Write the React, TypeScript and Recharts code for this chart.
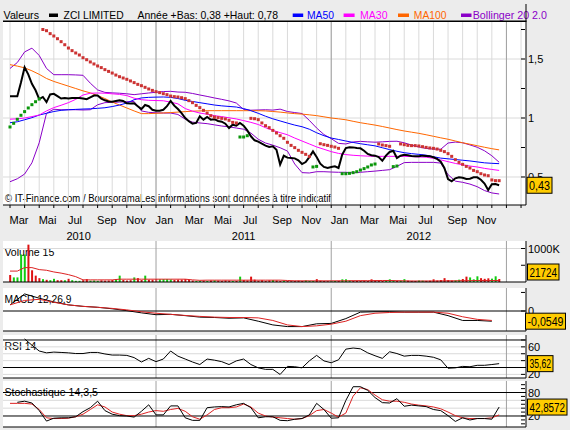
import React from 'react';
import { ComposedChart, Line, Bar, Cell, XAxis, YAxis, CartesianGrid, ReferenceLine } from 'recharts';

// ---------------- categories (months since 1 Mar 2010) ----------------
const monthTicks = [0,1,2,3,4,5,6,7,8,9,10,11,12,13,14,15,16,17,18,19,20,21,22,23,24,25,26,27,28,29,30,31,32,33,34,35];
const janMonths = [10, 22, 34];
const monthLabels = ['Mar','Mai','Jul','Sep','Nov','Jan','Mar','Mai','Jul','Sep','Nov','Jan','Mar','Mai','Jul','Sep','Nov'];
const yearLabels = ['2010', '2011', '2012'];
const yearPositions = [4.7, 16, 28];

const WEEK = 0.25;
const HALF = 0.5;
const MONTH = 1;

// ---------------- price (weekly) ----------------
const price = [
  1.184,1.184,1.184,1.30,1.43,1.37,1.29,1.235,1.16,1.178,
  1.135,1.20,1.205,1.185,1.165,1.17,1.165,1.17,1.17,1.17,
  1.165,1.16,1.175,1.19,1.19,1.165,1.15,1.14,1.138,1.145,
  1.15,1.145,1.125,1.123,1.125,1.10,1.075,1.11,1.10,1.07,
  1.062,1.062,1.07,1.10,1.145,1.105,1.076,1.042,1.0,0.972,
  0.952,0.958,1.014,0.986,1.008,0.986,0.99,0.975,0.969,0.952,
  0.915,0.943,0.935,0.958,0.935,0.895,0.845,0.811,0.80,0.782,
  0.766,0.754,0.76,0.73,0.605,0.68,0.664,0.661,0.658,0.641,
  0.61,0.627,0.669,0.717,0.669,0.613,0.585,0.576,0.585,0.59,
  0.576,0.689,0.745,0.752,0.751,0.746,0.743,0.723,0.695,0.684,
  0.681,0.669,0.638,0.681,0.712,0.723,0.661,0.68,0.689,0.684,
  0.678,0.675,0.675,0.681,0.678,0.675,0.667,0.653,0.63,0.576,
  0.483,0.463,0.489,0.497,0.494,0.483,0.486,0.497,0.497,0.477,
  0.444,0.39,0.438,0.44,0.43,
];

// ---------------- parabolic SAR (weekly) ----------------
const sar = [
  0.924,0.955,0.989,1.023,1.054,1.085,1.113,1.138,1.161,1.75,
  1.74,1.715,1.695,1.672,1.647,1.621,1.593,1.571,1.551,1.534,
  1.511,1.494,1.475,1.458,1.441,1.427,1.41,1.395,1.381,1.364,
  1.35,1.339,1.328,1.314,1.3,1.285,1.274,1.26,1.246,1.234,
  1.223,1.215,1.206,1.198,1.186,1.181,1.178,1.172,1.164,1.147,
  1.13,1.107,1.088,1.065,1.042,1.02,1.008,1.003,0.997,0.992,
  0.98,0.963,0.958,0.839,0.839,0.85,0.997,0.994,0.986,0.958,
  0.935,0.918,0.895,0.873,0.85,0.828,0.794,0.768,0.749,0.726,
  0.709,0.692,0.675,0.585,0.59,0.782,0.774,0.768,0.76,0.754,
  0.743,0.528,0.528,0.531,0.537,0.545,0.559,0.571,0.585,0.602,
  0.61,0.78,0.771,0.766,0.76,0.588,0.593,0.78,0.774,0.768,
  0.766,0.766,0.763,0.757,0.751,0.746,0.743,0.737,0.726,0.715,
  0.698,0.675,0.647,0.624,0.607,0.59,0.576,0.556,0.545,0.528,
  0.517,0.511,0.475,0.469,0.469,
];
const sarRuns: [string, number][] = [['g',9],['r',54],['g',3],['r',17],['g',2],['r',6],['g',10],['r',4],['g',2],['r',28]];

// ---------------- overlays (half-monthly) ----------------
const ma100 = [
  1.452,1.44,1.425,1.40,1.37,1.335,1.31,1.29,1.27,1.25,
  1.23,1.213,1.19,1.165,1.135,1.11,1.085,1.06,1.037,1.037,
  1.04,1.043,1.046,1.05,1.054,1.058,1.06,1.062,1.062,1.062,
  1.062,1.062,1.062,1.062,1.062,1.06,1.055,1.05,1.043,1.037,
  1.033,1.027,1.02,1.01,1.0,0.993,0.985,0.972,0.96,0.95,
  0.94,0.928,0.915,0.902,0.89,0.88,0.87,0.858,0.845,0.832,
  0.82,0.805,0.79,0.778,0.765,0.752,0.74,0.73,
];
const ma50 = [
  0.96,0.968,0.985,1.003,1.025,1.04,1.055,1.065,1.07,1.073,
  1.076,1.078,1.082,1.087,1.097,1.11,1.127,1.155,1.17,1.175,
  1.177,1.178,1.175,1.165,1.15,1.14,1.13,1.12,1.11,1.103,
  1.098,1.093,1.08,1.062,1.04,1.015,0.993,0.975,0.957,0.94,
  0.926,0.905,0.875,0.85,0.83,0.818,0.805,0.793,0.782,0.773,
  0.764,0.748,0.732,0.718,0.706,0.698,0.692,0.685,0.672,0.66,
  0.654,0.648,0.642,0.636,0.628,0.62,0.616,0.613,
];
const ma30 = [
  0.99,0.993,1.0,1.012,1.025,1.06,1.088,1.108,1.13,1.158,
  1.195,1.21,1.212,1.21,1.205,1.2,1.19,1.168,1.155,1.15,
  1.148,1.146,1.135,1.12,1.08,1.058,1.042,1.032,1.02,1.012,
  1.002,0.992,0.978,0.963,0.945,0.918,0.895,0.876,0.858,0.83,
  0.805,0.78,0.755,0.735,0.715,0.7,0.69,0.684,0.68,0.677,
  0.675,0.675,0.675,0.675,0.675,0.673,0.67,0.668,0.658,0.645,
  0.63,0.615,0.603,0.593,0.585,0.573,0.564,0.556,
];
const bbUpper = [
  1.42,1.47,1.56,1.592,1.53,1.42,1.367,1.367,1.367,1.365,
  1.362,1.295,1.238,1.217,1.213,1.21,1.205,1.198,1.205,1.212,
  1.218,1.224,1.226,1.22,1.218,1.208,1.195,1.183,1.17,1.158,
  1.145,1.127,1.072,1.066,1.068,1.07,1.067,1.075,1.055,1.046,
  1.038,0.98,0.915,0.86,0.825,0.785,0.78,0.797,0.802,0.798,
  0.795,0.798,0.802,0.803,0.79,0.77,0.755,0.742,0.737,0.735,
  0.788,0.796,0.79,0.772,0.752,0.722,0.68,0.625,
];
const bbLower = [
  0.46,0.485,0.525,0.62,0.79,1.04,1.074,1.07,1.07,1.07,
  1.068,1.07,1.112,1.13,1.133,1.135,1.138,1.14,1.06,1.048,
  1.044,1.042,1.042,1.03,0.99,0.965,0.958,0.952,0.942,0.932,
  0.925,0.915,0.905,0.872,0.82,0.788,0.77,0.748,0.72,0.61,
  0.537,0.534,0.545,0.545,0.542,0.54,0.54,0.535,0.54,0.545,
  0.55,0.556,0.562,0.59,0.622,0.624,0.624,0.624,0.624,0.618,
  0.52,0.465,0.455,0.44,0.418,0.385,0.365,0.356,
];

// ---------------- volume (weekly, thousands) ----------------
const volume = [
  210,137,137,820,820,1115,350,190,115,85,65,55,95,55,55,55,95,55,35,35,55,85,
  40,45,35,50,40,45,60,
  90,190,60,45,55,137,115,60,190,70,65,
  85,80,85,85,75,60,70,70,85,60,45,
  30,35,40,30,45,50,40,35,45,40,30,35,
  160,60,45,160,70,40,55,35,50,60,45,30,40,
  30,25,35,40,30,45,35,30,85,40,30,25,35,30,40,
  80,80,45,35,30,40,35,30,80,45,35,30,40,80,45,
  35,40,85,40,35,30,45,40,35,40,80,45,60,
  115,60,45,50,70,90,160,137,80,170,115,95,110,100,170,90,
];
const volumeMa = [
  326,326,430,430,370,350,300,265,220,160,
  65,63,63,63,63,84,84,84,84,84,
  84,84,84,84,84,63,50,55,55,55,
  55,55,55,55,55,55,55,55,45,35,
  35,35,35,35,35,35,35,40,40,40,
  42,45,45,40,35,30,30,30,30,32,
  35,35,40,40,45,45,45,45,
];

// ---------------- MACD (monthly) ----------------
const macd = [0.033,0.092,0.069,0.049,0.033,0.025,0.02,0.012,0.002,-0.01,-0.02,-0.018,-0.025,-0.033,-0.035,-0.039,-0.037,-0.055,-0.075,-0.084,-0.084,-0.069,-0.067,-0.041,-0.006,-0.004,-0.004,-0.006,-0.006,-0.006,-0.025,-0.051,-0.051,-0.055];
const macdSignal = [0.033,0.057,0.063,0.047,0.033,0.025,0.02,0.014,0.006,-0.004,-0.012,-0.018,-0.024,-0.029,-0.033,-0.035,-0.035,-0.037,-0.051,-0.075,-0.084,-0.08,-0.071,-0.055,-0.025,-0.012,-0.008,-0.006,-0.006,-0.006,-0.012,-0.031,-0.045,-0.051];

// ---------------- RSI 14 (half-monthly from month 1) ----------------
const rsiStart = 1;
const rsi = [
  71.6,62.5,54,51.3,52.4,51.9,51.3,50.3,50.3,51.9,
  51.9,49.7,48.1,48.1,47.6,44.4,38,43.3,38.5,42.3,
  54,46.5,42.3,38,34.3,42.3,40.7,38.5,34.3,39.6,
  42.3,34.3,29.5,27.3,27.3,19.9,31.6,31.1,29.5,39.6,
  47.6,39.6,36.9,41.2,56.7,58.3,57.2,51.3,47.1,43.3,
  52.9,50.3,46.5,47.6,47.6,46.5,44.9,41.2,28.9,29.5,
  31.6,31.1,33.2,33.2,34.3,35.6,
];

// ---------------- Stochastic 14,3,5 (half-monthly) ----------------
const stochKStart = 0.5;
const stochK = [
  55,57.8,53.2,33.8,7,14.4,15.4,15.4,18.1,31.1,
  41.2,57.8,33.8,24.6,20.9,20,17.2,32,48.6,22.8,
  22.8,45.8,45.8,15.4,8.9,8.9,41.2,43.1,44,43.1,
  48.6,52.3,41.2,15.4,18.1,18.1,8.9,8,11.7,13.5,
  22.8,52.3,36.6,14.4,15.4,59.7,94.8,94.8,85.5,67.1,
  54.1,53.2,64.3,44.9,47.7,45.8,44,36.6,33.8,20.9,
  6.1,15.4,9.8,13.5,13.5,11.7,42.9,
];
const stochD = [
  52.3,52.3,52.3,50.5,36.6,15.4,13.5,13.5,14.4,18.1,
  24.6,36.6,48.6,43.1,30.1,24.6,20.9,20.9,24.6,30.1,
  33.8,32,36.6,39.4,32,18.1,11.7,22.8,36.6,41.2,
  41.2,43.1,50.5,43.1,27.4,20,17.2,15.4,13.5,11.7,
  13.5,20.9,33.8,36.6,27.4,17.2,27.4,70.8,92,87.4,
  73.5,61.5,57.8,57.8,55,50.5,47.7,45.8,43.1,38.4,
  30.1,20.9,15.4,13.5,13.5,13.5,15.4,22.8,
];

// ---------------- text / last values ----------------
const lastPrice = 0.43;
const lastVolume = '21724';
const lastMacd = -0.0549;
const lastRsi = 35.62;
const lastStoch = 42.8572;

// ---------------- styling constants ----------------
const FONT = "'Liberation Sans', Arial, Helvetica, sans-serif";
const BLUE = '#0000ff';
const MAGENTA = '#ff00ff';
const ORANGE = '#ff6600';
const PURPLE = '#8a00c8';
const SAR_RED = '#cc3333';
const SAR_GREEN = '#0a960a';
const VOL_GREEN = '#11cc11';
const VOL_RED = '#dd1111';
const LINE_RED = '#dd2222';
const GRID = '#dadada';
const JAN = '#a0a0a0';

const XD: [number, number] = [-0.48, 35.34];
const MAIN_D: [number, number] = [0.2627, 1.8136];
const VOL_D: [number, number] = [0, 1224];
const MACD_D: [number, number] = [-0.1078, 0.124];
const RSI_D: [number, number] = [14.73, 77.27];
const STO_D: [number, number] = [-8.1, 109.4];

const P_MAIN = { top: 22, h: 183 };
const P_VOL = { top: 241, h: 41 };
const P_MACD = { top: 288, h: 43 };
const P_RSI = { top: 335, h: 43 };
const P_STO = { top: 381, h: 46 };

const yOf = (v: number, d: [number, number], p: { top: number; h: number }) =>
  p.top + ((d[1] - v) / (d[1] - d[0])) * p.h;

const series = (arr: number[], start: number, step: number) => arr.map((v, i) => ({ t: start + i * step, v }));

// ---------------- built tables ----------------
const sarSide: string[] = [];
sarRuns.forEach(([s, n]) => { for (let k = 0; k < n; k++) sarSide.push(s); });
const priceData = series(price, 0, WEEK);
const sarRed = sar.map((v, i) => ({ t: i * WEEK, v, s: sarSide[i] })).filter((d) => d.s === 'r');
const sarGreen = sar.map((v, i) => ({ t: i * WEEK, v, s: sarSide[i] })).filter((d) => d.s === 'g');
const ma100Data = series(ma100, 0, HALF);
const ma50Data = series(ma50, 0, HALF);
const ma30Data = series(ma30, 0, HALF);
const bbUpData = series(bbUpper, 0, HALF);
const bbLowData = series(bbLower, 0, HALF);
const volData = volume.map((v, i) => ({ t: i * WEEK, v, up: i > 0 && price[i] >= price[i - 1] }));
const volMaData = series(volumeMa, 0, HALF);
const macdData = series(macd, 0, MONTH);
const signalData = series(macdSignal, 0, MONTH);
const rsiData = series(rsi, rsiStart, HALF);
const kData = series(stochK, stochKStart, HALF);
const dData = series(stochD, 0, HALF);

// ---------------- ticks ----------------
function yTick(labels: Record<string, string>) {
  return (props: any) => {
    const { x, y, payload } = props;
    const lab = labels[String(payload.value)];
    return (
      <g>
        <line x1={x - 5} x2={x - 1} y1={y} y2={y} stroke="#000" />
        {lab ? (
          <text x={x + 2} y={y + 4} fontSize={11} fontFamily={FONT} fill="#000">{lab}</text>
        ) : null}
      </g>
    );
  };
}

const MonthTick = (props: any) => {
  const { x, y, payload } = props;
  const t = payload.value as number;
  const idx = t / 2;
  const label = t % 2 === 0 && idx < monthLabels.length ? monthLabels[idx] : null;
  return (
    <g>
      <line x1={x} x2={x} y1={y} y2={y + 3} stroke="#000" />
      {label ? (
        <text x={x - 0.5} y={y + 19} fontSize={11} fontFamily={FONT} fill="#000">{label}</text>
      ) : null}
    </g>
  );
};

const YearTick = (props: any) => {
  const { x, y, payload } = props;
  const idx = yearPositions.indexOf(payload.value);
  return (
    <text x={x} y={y + 15} fontSize={11} fontFamily={FONT} fill="#000" textAnchor="middle">
      {idx >= 0 ? yearLabels[idx] : ''}
    </text>
  );
};

const square = (color: string) => (props: any) => {
  const { cx, cy, index } = props;
  if (cx == null || cy == null || isNaN(cx) || isNaN(cy)) return <g key={`s${index}`} />;
  return <rect key={`s${index}`} x={cx - 1.5} y={cy - 1.5} width={3} height={3} fill={color} />;
};

const janLines = janMonths.map((t) => (
  <ReferenceLine key={`jan${t}`} x={t} stroke={JAN} ifOverflow="extendDomain" />
));

function LowerPanel(props: {
  p: { top: number; h: number };
  domain: [number, number];
  ticks: number[];
  labels: Record<string, string>;
  grid: number[];
  data?: any[];
  children: React.ReactNode;
}) {
  const { p, domain, ticks, labels, grid, data, children } = props;
  return (
    <div style={{ position: 'absolute', left: 0, top: p.top, width: 570, height: p.h + 2 }}>
      <ComposedChart width={570} height={p.h + 2} data={data} margin={{ top: 0, right: 0, bottom: 0, left: 3 }}>
        <CartesianGrid
          stroke={GRID}
          verticalValues={monthTicks}
          horizontal={grid.length > 0}
          horizontalValues={grid.length > 0 ? grid : undefined}
        />
        <XAxis dataKey="t" type="number" domain={XD} allowDataOverflow ticks={monthTicks} interval={0}
          height={2} tick={false} tickLine={false} axisLine={{ stroke: '#000' }} />
        <YAxis orientation="right" width={44} type="number" domain={domain} allowDataOverflow ticks={ticks}
          interval={0} tick={yTick(labels)} tickLine={false} tickSize={0} tickMargin={0} axisLine={{ stroke: '#000' }} />
        {janLines}
        {children}
      </ComposedChart>
    </div>
  );
}

const Box = ({ x, yc, w, text }: { x: number; yc: number; w: number; text: string }) => (
  <g>
    <rect x={x} y={yc - 8} width={w} height={16} fill="#ffcc00" stroke="#000" strokeWidth={1} />
    <text x={x + 2} y={yc + 4.5} fontSize={12} fontFamily={FONT} fill="#000" textLength={w - 4} lengthAdjust="spacingAndGlyphs">{text}</text>
  </g>
);

const fmt = (v: number, d: number) => v.toFixed(d).replace('.', ',');

export default function App() {
  const headerItems = [
    { x: 3.6, w: 35.4, text: 'Valeurs', color: '#000' },
    { x: 63.6, w: 60, text: 'ZCI LIMITED', color: '#000' },
    { x: 137.5, w: 140.5, text: 'Année +Bas: 0,38 +Haut: 0,78', color: '#000' },
    { x: 307, w: 27, text: 'MA50', color: BLUE },
    { x: 360, w: 27.5, text: 'MA30', color: MAGENTA },
    { x: 413.8, w: 32.7, text: 'MA100', color: ORANGE },
    { x: 472.7, w: 74.3, text: 'Bollinger 20 2.0', color: PURPLE },
  ];
  const swatches = [
    { x: 49, w: 9, color: '#000' },
    { x: 292.7, w: 10.5, color: BLUE },
    { x: 343.6, w: 11, color: MAGENTA },
    { x: 398, w: 11, color: ORANGE },
    { x: 461, w: 10.5, color: PURPLE },
  ];
  const panelLabels = [
    { p: P_VOL, text: 'Volume 15', w: 50 },
    { p: P_MACD, text: 'MACD 12,26,9', w: 67 },
    { p: P_RSI, text: 'RSI 14', w: 32 },
    { p: P_STO, text: 'Stochastique 14,3,5', w: 93.6 },
  ];
  const panels = [P_MAIN, P_VOL, P_MACD, P_RSI, P_STO];

  return (
    <div style={{ position: 'absolute', left: 0, top: 0, width: 570, height: 430, background: '#ececec', overflow: 'hidden' }}>
      {/* background layer */}
      <svg width={570} height={430} style={{ position: 'absolute', left: 0, top: 0 }}>
        {panels.map((p, i) => (
          <rect key={i} x={3} y={p.top} width={523} height={p.h} fill="#ffffff" />
        ))}
        {headerItems.map((h, i) => (
          <text key={i} x={h.x} y={19} fontSize={11} fontFamily={FONT} fill={h.color} textLength={h.w} lengthAdjust="spacingAndGlyphs">{h.text}</text>
        ))}
        {swatches.map((s, i) => (
          <rect key={i} x={s.x} y={13.5} width={s.w} height={3.5} fill={s.color} />
        ))}
        <text x={5} y={202} fontSize={10.5} fontFamily={FONT} fill="#000" textLength={326} lengthAdjust="spacingAndGlyphs">
          © IT-Finance.com / BoursoramaLes informations sont données à titre indicatif
        </text>
        {panelLabels.map((l, i) => (
          <text key={i} x={4.4} y={l.p.top + 14.5} fontSize={11} fontFamily={FONT} fill="#000" textLength={l.w} lengthAdjust="spacingAndGlyphs">{l.text}</text>
        ))}
      </svg>

      {/* main price chart */}
      <div style={{ position: 'absolute', left: 0, top: 0, width: 570, height: 245 }}>
        <ComposedChart width={570} height={245} margin={{ top: P_MAIN.top, right: 0, bottom: 0, left: 3 }}>
          <CartesianGrid stroke={GRID} verticalValues={monthTicks} horizontalValues={[0.5, 1, 1.5]} />
          <XAxis dataKey="t" type="number" domain={XD} allowDataOverflow ticks={monthTicks} interval={0}
            tick={MonthTick} tickLine={false} tickSize={0} tickMargin={0} height={20} axisLine={{ stroke: '#000' }} />
          <XAxis xAxisId="yr" dataKey="t" type="number" domain={XD} allowDataOverflow ticks={yearPositions} interval={0}
            tick={YearTick} tickLine={false} tickSize={0} tickMargin={0} height={20} axisLine={false} />
          <YAxis orientation="right" width={44} type="number" domain={MAIN_D} allowDataOverflow
            ticks={[0.5, 0.75, 1, 1.25, 1.5, 1.75]} interval={0}
            tick={yTick({ '0.5': '0,5', '1': '1', '1.5': '1,5' })}
            tickLine={false} tickSize={0} tickMargin={0} axisLine={{ stroke: '#000' }} />
          {janLines}
          <Line data={bbUpData} dataKey="v" type="linear" stroke={PURPLE} strokeWidth={1} dot={false} activeDot={false} isAnimationActive={false} />
          <Line data={bbLowData} dataKey="v" type="linear" stroke={PURPLE} strokeWidth={1} dot={false} activeDot={false} isAnimationActive={false} />
          <Line data={ma100Data} dataKey="v" type="linear" stroke={ORANGE} strokeWidth={1} dot={false} activeDot={false} isAnimationActive={false} />
          <Line data={ma50Data} dataKey="v" type="linear" stroke={BLUE} strokeWidth={1} dot={false} activeDot={false} isAnimationActive={false} />
          <Line data={ma30Data} dataKey="v" type="linear" stroke={MAGENTA} strokeWidth={1} dot={false} activeDot={false} isAnimationActive={false} />
          <Line data={priceData} dataKey="v" type="linear" stroke="#000" strokeWidth={2} dot={false} activeDot={false} isAnimationActive={false} />
          <Line data={sarRed} dataKey="v" type="linear" stroke="none" dot={square(SAR_RED)} activeDot={false} isAnimationActive={false} />
          <Line data={sarGreen} dataKey="v" type="linear" stroke="none" dot={square(SAR_GREEN)} activeDot={false} isAnimationActive={false} />
        </ComposedChart>
      </div>

      {/* volume */}
      <LowerPanel p={P_VOL} domain={VOL_D} ticks={[500, 1000]} labels={{ '1000': '1000K' }} grid={[1000]} data={volData}>
        <Bar dataKey="v" barSize={2} isAnimationActive={false}>
          {volData.map((d, i) => (
            <Cell key={i} fill={d.up ? VOL_GREEN : VOL_RED} />
          ))}
        </Bar>
        <Line data={volMaData} dataKey="v" type="linear" stroke={LINE_RED} strokeWidth={1} dot={false} activeDot={false} isAnimationActive={false} />
      </LowerPanel>

      {/* MACD */}
      <LowerPanel p={P_MACD} domain={MACD_D} ticks={[0, 0.1]} labels={{ '0': '0' }} grid={[]}>
        <ReferenceLine y={0} stroke="#000" />
        <Line data={macdData} dataKey="v" type="linear" stroke="#000" strokeWidth={1} dot={false} activeDot={false} isAnimationActive={false} />
        <Line data={signalData} dataKey="v" type="linear" stroke={LINE_RED} strokeWidth={1} dot={false} activeDot={false} isAnimationActive={false} />
      </LowerPanel>

      {/* RSI */}
      <LowerPanel p={P_RSI} domain={RSI_D} ticks={[20, 30, 40, 50, 60, 70]} labels={{ '60': '60', '20': '20' }} grid={[20, 40, 50, 60]}>
        <ReferenceLine y={70} stroke="#000" />
        <ReferenceLine y={30} stroke="#000" />
        <Line data={rsiData} dataKey="v" type="linear" stroke="#000" strokeWidth={1} dot={false} activeDot={false} isAnimationActive={false} />
      </LowerPanel>

      {/* Stochastic */}
      <LowerPanel p={P_STO} domain={STO_D} ticks={[0, 10, 20, 30, 40, 50, 60, 70, 80, 90, 100]} labels={{ '80': '80', '20': '20' }} grid={[40, 60]}>
        <ReferenceLine y={80} stroke="#000" />
        <ReferenceLine y={20} stroke="#000" />
        <Line data={dData} dataKey="v" type="linear" stroke={LINE_RED} strokeWidth={1} dot={false} activeDot={false} isAnimationActive={false} />
        <Line data={kData} dataKey="v" type="linear" stroke="#000" strokeWidth={1} dot={false} activeDot={false} isAnimationActive={false} />
      </LowerPanel>

      {/* overlay layer */}
      <svg width={570} height={430} style={{ position: 'absolute', left: 0, top: 0, pointerEvents: 'none' }}>
        <line x1={3} x2={526.5} y1={21.25} y2={21.25} stroke="#000" strokeWidth={1.5} />
        <line x1={526} x2={526} y1={4} y2={22} stroke="#000" strokeWidth={1} />
        <Box x={527} yc={yOf(lastPrice, MAIN_D, P_MAIN)} w={25} text={fmt(lastPrice, 2)} />
        <Box x={527.5} yc={272} w={31.5} text={lastVolume} />
        <Box x={525.5} yc={yOf(lastMacd, MACD_D, P_MACD)} w={40} text={fmt(lastMacd, 4)} />
        <Box x={527.5} yc={yOf(lastRsi, RSI_D, P_RSI)} w={25.5} text={fmt(lastRsi, 2)} />
        <Box x={527.5} yc={yOf(lastStoch, STO_D, P_STO)} w={39.5} text={fmt(lastStoch, 4)} />
      </svg>
    </div>
  );
}
